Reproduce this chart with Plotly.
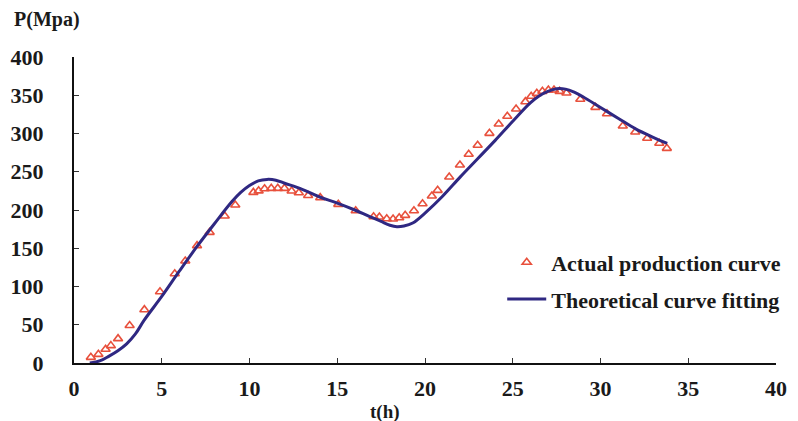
import plotly.graph_objects as go

# Actual production data (triangles)
t_actual = [0.96, 1.39, 1.80, 2.10, 2.51, 3.17, 4.01, 4.90, 5.74, 6.34, 7.01, 7.73, 8.59, 9.19,
            10.22, 10.52, 10.86, 11.24, 11.61, 11.99, 12.40, 12.81, 13.34, 14.03, 15.06, 16.05,
            17.07, 17.40, 17.82, 18.18, 18.53, 18.87, 19.37, 19.86, 20.39, 20.72,
            21.38, 21.99, 22.49, 23.00, 23.67, 24.20, 24.69, 25.19, 25.72, 26.05, 26.37, 26.69,
            27.03, 27.35, 27.67, 28.06, 28.85, 29.71, 30.37, 31.27, 31.98, 32.66, 33.35, 33.78]
p_actual = [7.4, 11.3, 17.9, 22.7, 31.8, 49.0, 69.7, 93.2, 116.7, 133.3, 153.4, 170.8, 192.2, 206.5,
            223.0, 225.0, 227.8, 228.3, 228.3, 228.3, 224.8, 222.6, 219.0, 216.1, 207.4, 199.1,
            191.2, 190.8, 188.6, 188.2, 189.9, 193.0, 199.1, 208.2, 218.3, 225.7,
            243.1, 258.8, 272.8, 284.6, 300.2, 312.4, 322.5, 332.0, 341.6, 348.6, 352.5, 355.1,
            356.9, 356.9, 355.1, 352.9, 344.7, 334.2, 325.9, 309.8, 302.0, 293.7, 287.2, 280.6]

# Theoretical fitted curve
t_fit = [0.9, 1.5, 2.0, 2.5, 3.0, 3.5, 4.0, 5.0, 6.0, 7.0, 8.0, 9.0, 9.5, 10.0, 10.5, 11.0,
         11.5, 12.0, 13.0, 14.0, 15.0, 16.0, 17.0, 17.5, 18.0, 18.4, 18.8, 19.3, 20.0, 21.0,
         22.0, 23.0, 24.0, 25.0, 26.0, 26.5, 27.0, 27.5, 28.0, 28.5, 29.0, 30.0, 31.0, 32.0,
         33.0, 33.8]
p_fit = [0, 3, 9, 16, 25, 38, 56, 87, 120, 152, 182, 211, 223, 232, 238, 240,
         239, 235, 227, 217, 209, 200, 190, 185, 180, 178, 179, 183, 196, 218,
         243, 267, 291, 316, 340, 349, 355, 358.5, 358, 354, 348, 334, 320, 306,
         295, 287]

x_ticks = [0, 5, 10, 15, 20, 25, 30, 35, 40]
y_ticks = [0, 50, 100, 150, 200, 250, 300, 350, 400]

FONT = "Liberation Serif"
TXT = "#1a1a1a"

fig = go.Figure()
fig.add_trace(go.Scatter(
    x=t_actual, y=p_actual, mode="markers", name="Actual production curve",
    legendgroup="a",
    marker=dict(symbol="triangle-up-open", size=8, color="#e8503c", line=dict(width=1.6)),
))
fig.add_trace(go.Scatter(
    x=t_fit, y=p_fit, mode="lines", name="Theoretical curve fitting",
    legendgroup="b",
    line=dict(color="#2f2882", width=3, shape="spline", smoothing=1.0),
))

axis_common = dict(
    showgrid=False, zeroline=False, showline=True, linecolor="#111111", linewidth=2,
    ticks="inside", ticklen=5, tickwidth=1, tickcolor="#333333", automargin=False,
    ticklabeloverflow="allow",
    tickfont=dict(family=FONT, size=22, color=TXT, weight="bold"),
)
fig.update_xaxes(range=[0, 40], tickvals=x_ticks, ticktext=[str(v) for v in x_ticks],
                 ticklabelstandoff=5, **axis_common)
fig.update_yaxes(range=[0, 400], tickvals=y_ticks, ticktext=[str(v) for v in y_ticks],
                 ticklabelstandoff=24, **axis_common)

fig.add_annotation(text="<b>P(Mpa)</b>", xref="paper", yref="paper", x=-0.038, y=1.121,
                   xanchor="center", yanchor="middle",
                   showarrow=False, font=dict(family=FONT, size=20, color=TXT))
fig.add_annotation(text="<b>t(h)</b>", xref="paper", yref="paper", x=0.443, y=-0.16,
                   xanchor="center", yanchor="middle",
                   showarrow=False, font=dict(family=FONT, size=19, color=TXT))

fig.update_layout(
    width=790, height=413,
    margin=dict(l=66, r=22, t=49, b=58),
    paper_bgcolor="white", plot_bgcolor="white",
    font=dict(family=FONT, color=TXT),
    showlegend=True,
    legend=dict(x=0.610, y=0.397, xanchor="left", yanchor="top", itemwidth=39,
                font=dict(family=FONT, size=22, color=TXT, weight="bold"),
                bgcolor="rgba(0,0,0,0)", tracegroupgap=5, traceorder="grouped"),
)

fig.write_html("out.html")
